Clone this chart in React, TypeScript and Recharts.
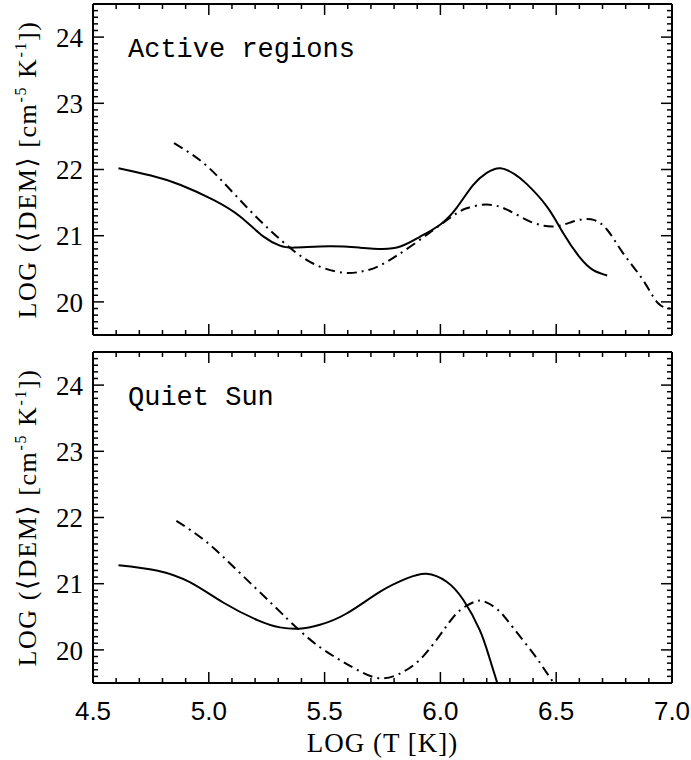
import React from 'react';
import { LineChart, Line, XAxis, YAxis, Label, Customized } from 'recharts';

// Active regions: solid and dash-dot curves (log T, log DEM)
const activeSolid = [
  { t: 4.61, dem: 22.02 }, { t: 4.75, dem: 21.91 }, { t: 4.876, dem: 21.77 },
  { t: 5.02, dem: 21.54 }, { t: 5.135, dem: 21.29 }, { t: 5.235, dem: 20.99 },
  { t: 5.307, dem: 20.85 }, { t: 5.37, dem: 20.82 }, { t: 5.52, dem: 20.84 },
  { t: 5.65, dem: 20.82 }, { t: 5.75, dem: 20.8 }, { t: 5.83, dem: 20.84 },
  { t: 5.91, dem: 20.98 }, { t: 6.0, dem: 21.17 }, { t: 6.07, dem: 21.42 },
  { t: 6.14, dem: 21.76 }, { t: 6.2, dem: 21.95 }, { t: 6.26, dem: 22.02 },
  { t: 6.32, dem: 21.93 }, { t: 6.37, dem: 21.79 }, { t: 6.46, dem: 21.44 },
  { t: 6.53, dem: 21.04 }, { t: 6.6, dem: 20.68 }, { t: 6.66, dem: 20.48 },
  { t: 6.72, dem: 20.4 },
];

const activeDashDot = [
  { t: 4.85, dem: 22.4 }, { t: 4.969, dem: 22.12 }, { t: 5.07, dem: 21.78 },
  { t: 5.164, dem: 21.43 }, { t: 5.25, dem: 21.13 }, { t: 5.336, dem: 20.86 },
  { t: 5.45, dem: 20.58 }, { t: 5.58, dem: 20.44 }, { t: 5.66, dem: 20.46 },
  { t: 5.74, dem: 20.55 }, { t: 5.88, dem: 20.86 }, { t: 6.03, dem: 21.24 },
  { t: 6.11, dem: 21.41 }, { t: 6.2, dem: 21.47 }, { t: 6.29, dem: 21.39 },
  { t: 6.39, dem: 21.21 }, { t: 6.49, dem: 21.14 }, { t: 6.57, dem: 21.21 },
  { t: 6.65, dem: 21.25 }, { t: 6.72, dem: 21.09 }, { t: 6.79, dem: 20.73 },
  { t: 6.875, dem: 20.33 }, { t: 6.94, dem: 19.98 }, { t: 7.0, dem: 19.9 },
];

// Quiet Sun
const quietSolid = [
  { t: 4.61, dem: 21.28 }, { t: 4.775, dem: 21.2 }, { t: 4.92, dem: 21.02 },
  { t: 5.06, dem: 20.72 }, { t: 5.21, dem: 20.45 }, { t: 5.307, dem: 20.34 },
  { t: 5.39, dem: 20.32 }, { t: 5.48, dem: 20.38 }, { t: 5.595, dem: 20.55 },
  { t: 5.74, dem: 20.88 }, { t: 5.855, dem: 21.08 }, { t: 5.94, dem: 21.15 },
  { t: 6.027, dem: 21.03 }, { t: 6.1, dem: 20.75 }, { t: 6.17, dem: 20.3 },
  { t: 6.21, dem: 19.9 }, { t: 6.25, dem: 19.45 },
];

const quietDashDot = [
  { t: 4.86, dem: 21.95 }, { t: 4.99, dem: 21.63 }, { t: 5.135, dem: 21.16 },
  { t: 5.28, dem: 20.67 }, { t: 5.39, dem: 20.3 }, { t: 5.48, dem: 20.04 },
  { t: 5.56, dem: 19.86 }, { t: 5.64, dem: 19.7 }, { t: 5.74, dem: 19.57 },
  { t: 5.84, dem: 19.67 }, { t: 5.93, dem: 19.92 }, { t: 6.02, dem: 20.33 },
  { t: 6.085, dem: 20.6 }, { t: 6.15, dem: 20.73 }, { t: 6.19, dem: 20.73 },
  { t: 6.25, dem: 20.6 }, { t: 6.315, dem: 20.33 }, { t: 6.4, dem: 19.95 },
  { t: 6.46, dem: 19.65 }, { t: 6.5, dem: 19.45 },
];

const xMajor = [4.5, 5.0, 5.5, 6.0, 6.5, 7.0];
const yMajor = [20, 21, 22, 23, 24];

const xTicks: number[] = [];
for (let i = 0; i <= 25; i++) xTicks.push(Math.round((4.5 + i * 0.1) * 10) / 10);
const yTicks: number[] = [];
for (let i = 0; i <= 50; i++) yTicks.push(Math.round((19.5 + i * 0.1) * 10) / 10);

const isMajor = (v: number, list: number[]) => list.some((m) => Math.abs(m - v) < 1e-6);

const SERIF = '"Liberation Serif", "DejaVu Serif", serif';
const SANS = '"Liberation Sans", Arial, sans-serif';

const LeftTick = (props: any) => {
  const { x, y, payload } = props;
  const major = isMajor(payload.value, yMajor);
  return (
    <g>
      <line x1={x} y1={y} x2={x + (major ? 11 : 5)} y2={y} stroke="#000" strokeWidth={1.5} />
      {major && (
        <text x={x - 10} y={y} dy="0.36em" textAnchor="end" fontFamily={SERIF} fontSize={27} fill="#000">
          {payload.value}
        </text>
      )}
    </g>
  );
};

const RightTick = (props: any) => {
  const { x, y, payload } = props;
  const major = isMajor(payload.value, yMajor);
  return <line x1={x} y1={y} x2={x - (major ? 11 : 5)} y2={y} stroke="#000" strokeWidth={1.5} />;
};

const BottomTick = (props: any) => {
  const { x, y, payload, labels } = props;
  const major = isMajor(payload.value, xMajor);
  return (
    <g>
      <line x1={x} y1={y} x2={x} y2={y - (major ? 11 : 5)} stroke="#000" strokeWidth={1.5} />
      {labels && major && (
        <text x={x} y={y + 37} textAnchor="middle" fontFamily={SANS} fontSize={26} fill="#000">
          {payload.value.toFixed(1)}
        </text>
      )}
    </g>
  );
};

const TopTick = (props: any) => {
  const { x, y, payload } = props;
  const major = isMajor(payload.value, xMajor);
  return <line x1={x} y1={y} x2={x} y2={y + (major ? 11 : 5)} stroke="#000" strokeWidth={1.5} />;
};

const YTitle = (props: any) => {
  const vb = props.viewBox || { x: 0, y: 0, width: 93, height: 331 };
  const cx = 27;
  const cy = vb.y + vb.height / 2;
  return (
    <text
      x={cx}
      y={cy}
      transform={`rotate(-90, ${cx}, ${cy})`}
      textAnchor="middle"
      dy="0.35em"
      fontFamily={SERIF}
      fontSize={26}
      letterSpacing={1.6}
      fill="#000"
    >
      <tspan>LOG (⟨DEM⟩ [cm</tspan>
      <tspan fontSize={16} dy={-10}>-5</tspan>
      <tspan dy={10}> K</tspan>
      <tspan fontSize={16} dy={-10}>-1</tspan>
      <tspan dy={10}>])</tspan>
    </text>
  );
};

const PanelTitle = (props: any) => (
  <text x={props.px} y={props.py} fontFamily='"Liberation Mono", "DejaVu Sans Mono", monospace' fontSize={27} fill="#000">
    {props.text}
  </text>
);

const axisLine = { stroke: '#000', strokeWidth: 2 };

interface PanelProps {
  solid: { t: number; dem: number }[];
  dashDot: { t: number; dem: number }[];
  title: string;
  titleY: number;
  height: number;
  margin: { top: number; right: number; bottom: number; left: number };
  showXLabels: boolean;
}

const Panel = ({ solid, dashDot, title, titleY, height, margin, showXLabels }: PanelProps) => (
  <LineChart width={691} height={height} margin={margin}>
    <XAxis
      xAxisId="b"
      type="number"
      dataKey="t"
      domain={[4.5, 7.0]}
      allowDataOverflow
      ticks={xTicks}
      interval={0}
      height={1}
      tickSize={0}
      tickMargin={0}
      tickLine={false}
      axisLine={axisLine}
      tick={(p: any) => <BottomTick {...p} labels={showXLabels} />}
    >
      {showXLabels && (
        <Label
          content={(p: any) => (
            <text
              x={p.viewBox.x + p.viewBox.width / 2}
              y={p.viewBox.y + 69}
              textAnchor="middle"
              fontFamily={SERIF}
              fontSize={27}
              letterSpacing={1}
              fill="#000"
            >
              LOG (T [K])
            </text>
          )}
        />
      )}
    </XAxis>
    <XAxis
      xAxisId="t"
      orientation="top"
      type="number"
      dataKey="t"
      domain={[4.5, 7.0]}
      allowDataOverflow
      ticks={xTicks}
      interval={0}
      height={1}
      tickSize={0}
      tickMargin={0}
      tickLine={false}
      axisLine={axisLine}
      tick={<TopTick />}
    />
    <YAxis
      yAxisId="l"
      type="number"
      domain={[19.5, 24.5]}
      allowDataOverflow
      ticks={yTicks}
      interval={0}
      width={93}
      tickSize={0}
      tickMargin={0}
      tickLine={false}
      axisLine={axisLine}
      tick={<LeftTick />}
    >
      <Label content={(p: any) => <YTitle {...p} />} />
    </YAxis>
    <YAxis
      yAxisId="r"
      orientation="right"
      type="number"
      domain={[19.5, 24.5]}
      allowDataOverflow
      ticks={yTicks}
      interval={0}
      width={1}
      tickSize={0}
      tickMargin={0}
      tickLine={false}
      axisLine={axisLine}
      tick={<RightTick />}
    />
    <Line
      xAxisId="b"
      yAxisId="l"
      data={solid}
      dataKey="dem"
      type="natural"
      stroke="#000"
      strokeWidth={2}
      dot={false}
      isAnimationActive={false}
    />
    <Line
      xAxisId="b"
      yAxisId="l"
      data={dashDot}
      dataKey="dem"
      type="natural"
      stroke="#000"
      strokeWidth={2}
      strokeDasharray="10 5 2 5"
      dot={false}
      isAnimationActive={false}
    />
    {/* invisible twin so the top and right frame axes get a scale */}
    <Line
      xAxisId="t"
      yAxisId="r"
      data={solid}
      dataKey="dem"
      stroke="none"
      dot={false}
      activeDot={false}
      legendType="none"
      isAnimationActive={false}
    />
    <Customized component={<PanelTitle text={title} px={128} py={titleY} />} />
  </LineChart>
);

export default function App() {
  return (
    <div style={{ position: 'absolute', left: 0, top: 0, width: 691, height: 760, background: '#fff' }}>
      <div style={{ position: 'absolute', left: 0, top: 0 }}>
        <Panel
          solid={activeSolid}
          dashDot={activeDashDot}
          title="Active regions"
          titleY={57}
          height={345}
          margin={{ top: 3, right: 18, bottom: 9, left: 0 }}
          showXLabels={false}
        />
      </div>
      <div style={{ position: 'absolute', left: 0, top: 345 }}>
        <Panel
          solid={quietSolid}
          dashDot={quietDashDot}
          title="Quiet Sun"
          titleY={60}
          height={415}
          margin={{ top: 6, right: 18, bottom: 76, left: 0 }}
          showXLabels
        />
      </div>
    </div>
  );
}
